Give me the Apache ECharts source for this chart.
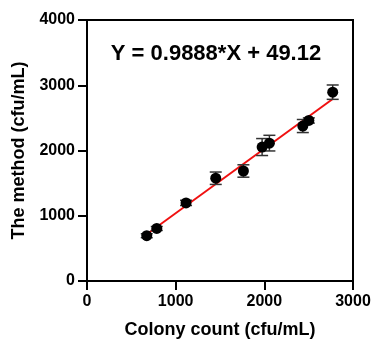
<!DOCTYPE html>
<html>
<head>
<meta charset="utf-8">
<script src="https://cdn.jsdelivr.net/npm/echarts@6/dist/echarts.min.js"></script>
<style>
html,body{margin:0;padding:0;background:#fff;}
#c{width:374px;height:344px;}
</style>
</head>
<body>
<div id="c"></div>
<script>
const colonyCount = [674, 787, 1117, 1452, 1764, 1975, 2057, 2434, 2502, 2771];
const methodValue = [694, 805, 1197, 1575, 1686, 2053, 2113, 2375, 2460, 2894];
const methodError = [30, 30, 40, 95, 95, 130, 120, 100, 40, 110];
const xTicks = [0, 1000, 2000, 3000];
const yTicks = [0, 1000, 2000, 3000, 4000];
const fitSlope = 0.9888;
const fitIntercept = 49.12;
const fitText = 'Y = 0.9888*X + 49.12';
const xTitle = 'Colony count (cfu/mL)';
const yTitle = 'The method (cfu/mL)';

const FONT = '"Liberation Sans", Arial, sans-serif';
const pts = colonyCount.map((x, i) => [x, methodValue[i]]);
const errData = colonyCount.map((x, i) => [x, methodValue[i] - methodError[i], methodValue[i] + methodError[i]]);
const xFirst = colonyCount[0], xLast = colonyCount[colonyCount.length - 1];
const fitLine = [[xFirst, fitSlope * xFirst + fitIntercept], [xLast, fitSlope * xLast + fitIntercept]];

const chart = echarts.init(document.getElementById('c'), null, {renderer: 'canvas'});
const axisCommon = {
  axisLine: {show: true, onZero: false, lineStyle: {color: '#000', width: 2}},
  axisTick: {show: true, inside: false, length: 9, lineStyle: {color: '#000', width: 2}},
  splitLine: {show: false},
  axisLabel: {color: '#000', fontFamily: FONT, fontWeight: 'bold', fontSize: 16, formatter: v => String(v)},
  nameLocation: 'middle',
  nameTextStyle: {color: '#000', fontFamily: FONT, fontWeight: 'bold', fontSize: 18}
};
chart.setOption({
  animation: false,
  backgroundColor: '#fff',
  grid: {left: 87, right: 21, top: 20, bottom: 59, show: true, borderColor: '#000', borderWidth: 2, backgroundColor: 'transparent'},
  xAxis: Object.assign({}, axisCommon, {
    type: 'value', min: xTicks[0], max: xTicks[xTicks.length - 1], interval: 1000,
    name: xTitle, nameGap: 40,
    axisLabel: Object.assign({}, axisCommon.axisLabel, {margin: 13})
  }),
  yAxis: Object.assign({}, axisCommon, {
    type: 'value', min: yTicks[0], max: yTicks[yTicks.length - 1], interval: 1000,
    name: yTitle, nameGap: 51,
    axisLabel: Object.assign({}, axisCommon.axisLabel, {margin: 12})
  }),
  graphic: [{
    type: 'text', x: 216, y: 54,
    style: {text: fitText, fill: '#000', font: 'bold 22px ' + FONT, textAlign: 'center', textVerticalAlign: 'middle'}
  }],
  series: [
    {
      type: 'line', data: fitLine, showSymbol: false, symbol: 'none',
      lineStyle: {color: '#f01010', width: 2}, z: 2
    },
    {
      type: 'custom', z: 3,
      renderItem: function (params, api) {
        const x = api.value(0);
        const lo = api.coord([x, api.value(1)]);
        const hi = api.coord([x, api.value(2)]);
        const hw = 6;
        const st = {stroke: '#333', lineWidth: 1.5};
        return {type: 'group', children: [
          {type: 'line', shape: {x1: lo[0], y1: lo[1], x2: hi[0], y2: hi[1]}, style: st},
          {type: 'line', shape: {x1: lo[0] - hw, y1: lo[1], x2: lo[0] + hw, y2: lo[1]}, style: st},
          {type: 'line', shape: {x1: hi[0] - hw, y1: hi[1], x2: hi[0] + hw, y2: hi[1]}, style: st}
        ]};
      },
      encode: {x: 0, y: [1, 2]},
      data: errData
    },
    {
      type: 'scatter', data: pts, symbol: 'circle', symbolSize: 11,
      itemStyle: {color: '#000', opacity: 1}, z: 4
    }
  ]
});
</script>
</body>
</html>
